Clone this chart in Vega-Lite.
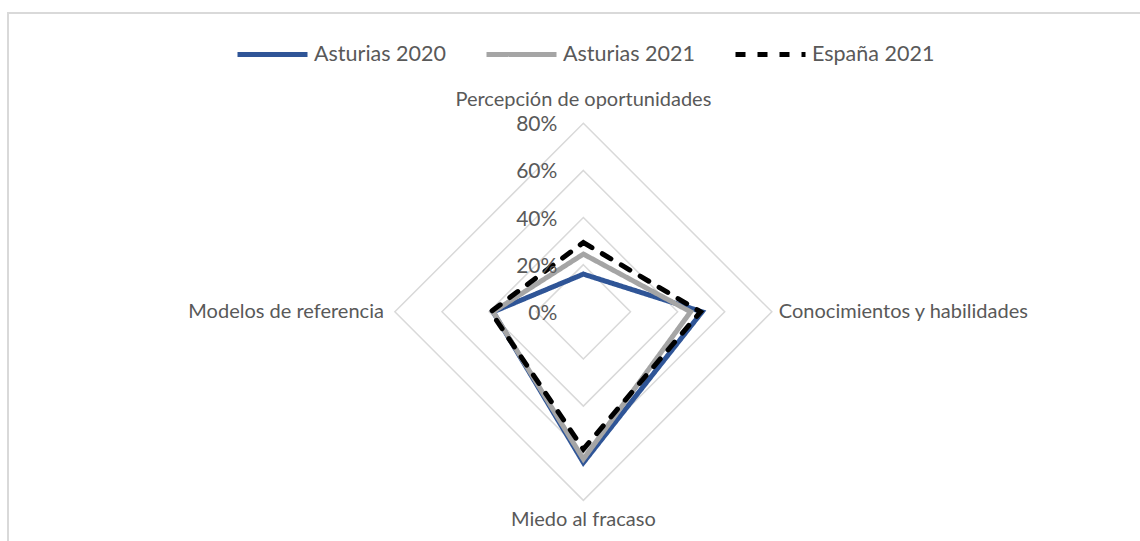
{
  "$schema": "https://vega.github.io/schema/vega-lite/v6.json",
  "width": 1134,
  "height": 530,
  "autosize": {"type": "none"},
  "padding": {"left": 8, "top": 13, "right": 0, "bottom": 0},
  "background": "white",
  "config": {
    "view": {"stroke": "#d9d9d9", "strokeWidth": 2},
    "font": "Lato",
    "text": {"font": "Lato", "color": "#595959"}
  },
  "datasets": {
    "rejilla": [
      {"nivel": 20, "orden": 1, "x": 0, "y": 20},
      {"nivel": 20, "orden": 2, "x": 20, "y": 0},
      {"nivel": 20, "orden": 3, "x": 0, "y": -20},
      {"nivel": 20, "orden": 4, "x": -20, "y": 0},
      {"nivel": 40, "orden": 1, "x": 0, "y": 40},
      {"nivel": 40, "orden": 2, "x": 40, "y": 0},
      {"nivel": 40, "orden": 3, "x": 0, "y": -40},
      {"nivel": 40, "orden": 4, "x": -40, "y": 0},
      {"nivel": 60, "orden": 1, "x": 0, "y": 60},
      {"nivel": 60, "orden": 2, "x": 60, "y": 0},
      {"nivel": 60, "orden": 3, "x": 0, "y": -60},
      {"nivel": 60, "orden": 4, "x": -60, "y": 0},
      {"nivel": 80, "orden": 1, "x": 0, "y": 80},
      {"nivel": 80, "orden": 2, "x": 80, "y": 0},
      {"nivel": 80, "orden": 3, "x": 0, "y": -80},
      {"nivel": 80, "orden": 4, "x": -80, "y": 0}
    ],
    "series": [
      {"serie": "Asturias 2020", "indicador": "Percepción de oportunidades", "orden": 1, "x": 0, "y": 16.0},
      {"serie": "Asturias 2020", "indicador": "Conocimientos y habilidades", "orden": 2, "x": 50.4, "y": 0},
      {"serie": "Asturias 2020", "indicador": "Miedo al fracaso", "orden": 3, "x": 0, "y": -64.0},
      {"serie": "Asturias 2020", "indicador": "Modelos de referencia", "orden": 4, "x": -38.3, "y": 0},
      {"serie": "Asturias 2021", "indicador": "Percepción de oportunidades", "orden": 1, "x": 0, "y": 24.5},
      {"serie": "Asturias 2021", "indicador": "Conocimientos y habilidades", "orden": 2, "x": 45.5, "y": 0},
      {"serie": "Asturias 2021", "indicador": "Miedo al fracaso", "orden": 3, "x": 0, "y": -62.5},
      {"serie": "Asturias 2021", "indicador": "Modelos de referencia", "orden": 4, "x": -38.3, "y": 0},
      {"serie": "España 2021", "indicador": "Percepción de oportunidades", "orden": 1, "x": 0, "y": 29.4},
      {"serie": "España 2021", "indicador": "Conocimientos y habilidades", "orden": 2, "x": 49.7, "y": 0},
      {"serie": "España 2021", "indicador": "Miedo al fracaso", "orden": 3, "x": 0, "y": -58.3},
      {"serie": "España 2021", "indicador": "Modelos de referencia", "orden": 4, "x": -39.3, "y": 0}
    ],
    "marcas": [
      {"etiqueta": "0%", "x": 0, "y": 0},
      {"etiqueta": "20%", "x": 0, "y": 20},
      {"etiqueta": "40%", "x": 0, "y": 40},
      {"etiqueta": "60%", "x": 0, "y": 60},
      {"etiqueta": "80%", "x": 0, "y": 80}
    ],
    "ejes": [
      {"indicador": "Percepción de oportunidades", "x": 0, "y": 80},
      {"indicador": "Conocimientos y habilidades", "x": 80, "y": 0},
      {"indicador": "Miedo al fracaso", "x": 0, "y": -80},
      {"indicador": "Modelos de referencia", "x": -80, "y": 0}
    ]
  },
  "encoding": {
    "x": {"field": "x", "type": "quantitative", "scale": {"domain": [-244.2, 237.1], "nice": false, "zero": false}, "axis": null},
    "y": {"field": "y", "type": "quantitative", "scale": {"domain": [-98.1, 126.8], "nice": false, "zero": false}, "axis": null}
  },
  "layer": [
    {
      "data": {"name": "rejilla"},
      "mark": {"type": "line", "interpolate": "linear-closed", "color": "#d9d9d9", "strokeWidth": 1.5},
      "encoding": {
        "detail": {"field": "nivel", "type": "nominal"},
        "order": {"field": "orden", "type": "quantitative"}
      }
    },
    {
      "data": {"name": "series"},
      "mark": {"type": "line", "interpolate": "linear-closed", "strokeWidth": 5, "strokeCap": "round"},
      "encoding": {
        "order": {"field": "orden", "type": "quantitative"},
        "color": {
          "field": "serie", "type": "nominal",
          "scale": {"domain": ["Asturias 2020", "Asturias 2021", "España 2021"], "range": ["#2F5597", "#A5A5A5", "#000000"]},
          "legend": {"title": null, "orient": "none", "legendX": 227, "legendY": 4, "direction": "horizontal", "symbolType": "stroke", "symbolSize": 4900, "symbolStrokeWidth": 5, "labelFontSize": 21.5, "labelFont": "Lato", "labelColor": "#595959", "labelOffset": 4, "columnPadding": 30}
        },
        "strokeDash": {
          "field": "serie", "type": "nominal",
          "scale": {"domain": ["Asturias 2020", "Asturias 2021", "España 2021"], "range": [[1, 0], [1, 0], [10, 12]]},
          "legend": {"title": null, "orient": "none", "legendX": 227, "legendY": 4, "direction": "horizontal", "symbolType": "stroke", "symbolSize": 4900, "symbolStrokeWidth": 5, "labelFontSize": 21.5, "labelFont": "Lato", "labelColor": "#595959", "labelOffset": 4, "columnPadding": 30}
        }
      }
    },
    {
      "data": {"name": "marcas"},
      "mark": {"type": "text", "align": "right", "baseline": "middle", "dx": -26, "dy": 2, "fontSize": 21},
      "encoding": {
        "text": {"field": "etiqueta"}
      }
    },
    {
      "data": {"name": "ejes"},
      "transform": [{"filter": "datum.indicador === 'Percepción de oportunidades'"}],
      "mark": {"type": "text", "align": "center", "baseline": "middle", "dy": -23, "fontSize": 20},
      "encoding": {"text": {"field": "indicador"}}
    },
    {
      "data": {"name": "ejes"},
      "transform": [{"filter": "datum.indicador === 'Miedo al fracaso'"}],
      "mark": {"type": "text", "align": "center", "baseline": "middle", "dy": 20, "fontSize": 20},
      "encoding": {"text": {"field": "indicador"}}
    },
    {
      "data": {"name": "ejes"},
      "transform": [{"filter": "datum.indicador === 'Conocimientos y habilidades'"}],
      "mark": {"type": "text", "align": "left", "baseline": "middle", "dx": 7, "fontSize": 20},
      "encoding": {"text": {"field": "indicador"}}
    },
    {
      "data": {"name": "ejes"},
      "transform": [{"filter": "datum.indicador === 'Modelos de referencia'"}],
      "mark": {"type": "text", "align": "right", "baseline": "middle", "dx": -11, "fontSize": 20},
      "encoding": {"text": {"field": "indicador"}}
    }
  ]
}
